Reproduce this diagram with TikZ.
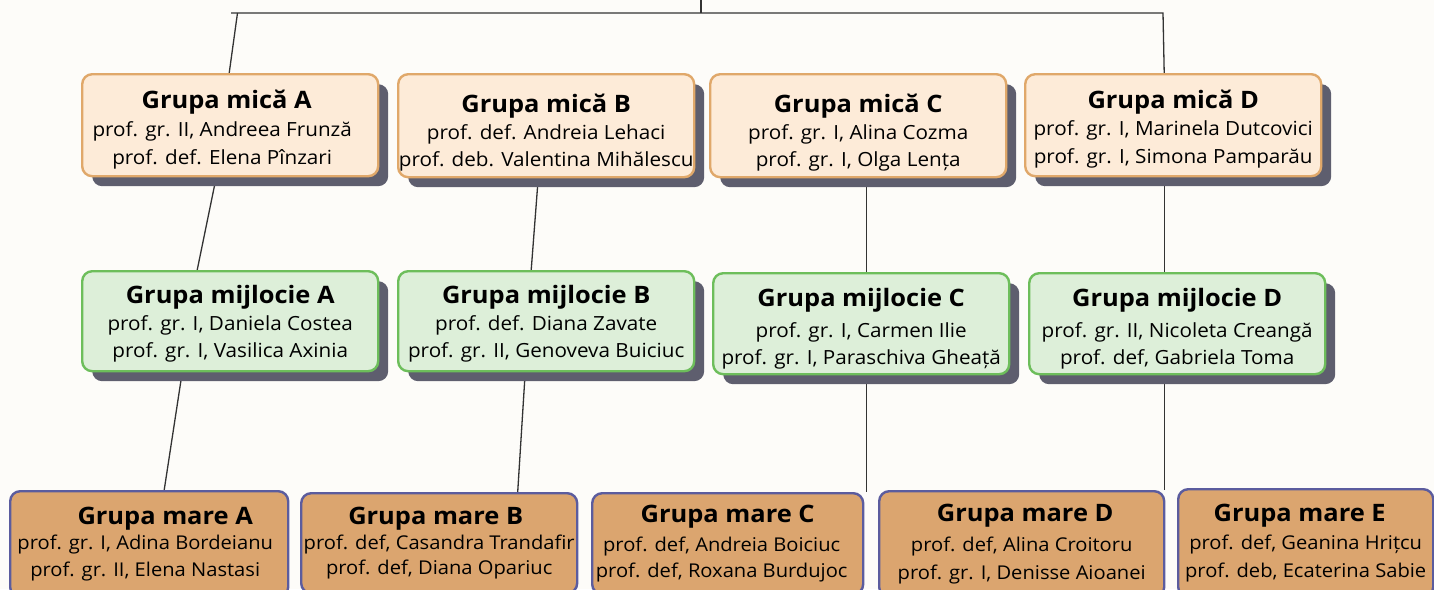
\documentclass[tikz,border=0pt]{standalone}
\usepackage{fontspec}
\setmainfont{Open Sans}[FakeStretch=1.06]
\usetikzlibrary{shadows,calc}
\definecolor{bgc}{HTML}{FDFCF9}
\definecolor{micaF}{HTML}{FDEBD8}
\definecolor{micaD}{HTML}{E0A86A}
\definecolor{mijF}{HTML}{DDEFD9}
\definecolor{mijD}{HTML}{6DBE5B}
\definecolor{mareF}{HTML}{DBA56F}
\definecolor{mareD}{HTML}{5B5C9E}
\definecolor{shc}{HTML}{5E5E6E}
\definecolor{linec}{HTML}{333333}
\pgfdeclarelayer{back}
\pgfdeclarelayer{lines}
\pgfsetlayers{back,lines,main}
\newcommand\grtitle[2][0pt]{{\fontsize{24}{28}\selectfont\bfseries\rule{0pt}{#1}#2}}
\newcommand\padR[1]{\kern#1\null}
\newcommand\padL[1]{\null\kern#1}
\begin{document}
\begin{tikzpicture}[x=1pt,y=-1pt,
  grp/.style={rounded corners=10pt, line width=2.4pt, inner sep=0pt, align=center,
    anchor=north west, text=black},
  shd/.style={drop shadow={shadow xshift=10pt, shadow yshift=-10pt, fill=shc, opacity=1}},
  mica/.style={grp, shd, fill=micaF, draw=micaD, minimum width=296pt, minimum height=102pt},
  mij/.style={grp, shd, fill=mijF, draw=mijD, minimum width=296pt, minimum height=100pt},
  mare/.style={grp, fill=mareF, draw=mareD},
  bs/.style={font=\fontsize{19.5}{#1}\selectfont},
  bm/.style={font=\fontsize{19}{#1}\selectfont},
  conn/.style={draw=linec, line width=1.3pt}
]
\useasboundingbox (0,0) rectangle (1434,589);
\begin{pgfonlayer}{back}
\fill[bgc] (0,0) rectangle (1434,589);
\end{pgfonlayer}

% row 1
\node[mica, bs=28] (micaA) at (81,73) {\grtitle[26.5pt]{Grupa mică A}\padR{7pt}\\ prof. gr. II, Andreea Frunză\padR{16pt}\\ prof. def. Elena Pînzari\padR{16pt}};
\node[mica, bs=27, minimum height=103pt] (micaB) at (397,73) {\grtitle[31.5pt]{Grupa mică B}\\ prof. def. Andreia Lehaci\\ prof. deb. Valentina Mihălescu};
\node[mica, bs=27, minimum height=103pt] (micaC) at (709,73) {\grtitle[31.5pt]{Grupa mică C}\\ prof. gr. I, Alina Cozma\\ prof. gr. I, Olga Lența};
\node[mica, bs=28] (micaD) at (1024,73) {\grtitle[25.5pt]{Grupa mică D}\\[-1pt] prof. gr. I, Marinela Dutcovici\\ prof. gr. I, Simona Pamparău};

% row 2
\node[mij, bs=27] (mijA) at (81,270) {\grtitle[22.5pt]{Grupa mijlocie A}\\ prof. gr. I, Daniela Costea\\ prof. gr. I, Vasilica Axinia};
\node[mij, bs=27] (mijB) at (397,270) {\grtitle[22.5pt]{Grupa mijlocie B}\\ prof. def. Diana Zavate\\ prof. gr. II, Genoveva Buiciuc};
\node[mij, bs=27, minimum height=101pt] (mijC) at (712,272) {\grtitle[27.5pt]{Grupa mijlocie C}\\[4pt] prof. gr. I, Carmen Ilie\\ prof. gr. I, Paraschiva Gheață};
\node[mij, bs=27, minimum height=101pt] (mijD) at (1028,272) {\grtitle[27.5pt]{Grupa mijlocie D}\\[4pt] prof. gr. II, Nicoleta Creangă\\ prof. def, Gabriela Toma};

% row 3
\node[mare, bm=27, minimum width=278pt, minimum height=106pt] (mareA) at (9,490) {\padL{32pt}\grtitle{Grupa mare A}\\[-2pt] prof. gr. I, Adina Bordeianu\padR{8pt}\\ prof. gr. II, Elena Nastasi\padR{8pt}};
\node[mare, bm=25, minimum width=276pt, minimum height=100pt] (mareB) at (300,492) {\grtitle{Grupa mare B}\padR{7pt}\\ prof. def, Casandra Trandafir\\ prof. def, Diana Opariuc};
\node[mare, bm=26, minimum width=271pt, minimum height=101pt] (mareC) at (591,492) {\grtitle{Grupa mare C}\\[3pt] prof. def, Andreia Boiciuc\padR{12pt}\\ prof. def, Roxana Burdujoc\padR{12pt}};
\node[mare, bm=28, minimum width=285pt, minimum height=106pt] (mareD) at (878,490) {\padL{7pt}\grtitle{Grupa mare D}\\[2pt] prof. def, Alina Croitoru\\ prof. gr. I, Denisse Aioanei};
\node[mare, bm=28, minimum width=255pt, minimum height=108pt] (mareE) at (1177,488) {\grtitle{Grupa mare E}\padR{12pt}\\ prof. def, Geanina Hrițcu\\ prof. deb, Ecaterina Sabie};

\begin{pgfonlayer}{lines}
\coordinate (topE) at (701,0);
\coordinate (topJ) at (701,13);
\coordinate (hl) at (231,13);
\coordinate (hr) at (1163,13);
\coordinate (sA) at (237.5,13);
\draw[conn] (topE) -- (topJ);
\draw[conn] (hl) -- (hr) -- ([xshift=-9pt]micaD.north);
\draw[conn] (sA) -- ([xshift=-1pt]micaA.north);
\draw[conn] ([xshift=-14pt]micaA.south) -- ([xshift=-33pt]mijA.north);
\draw[conn] ([xshift=-48pt]mijA.south) -- ([xshift=15pt]mareA.north);
\draw[conn] ([xshift=-8pt]micaB.south) -- ([xshift=-15pt]mijB.north);
\draw[conn] ([xshift=-21pt]mijB.south) -- ([xshift=78.5pt]mareB.north);
\draw[conn] ([xshift=8pt]micaC.south) -- ([xshift=5pt]mijC.north);
\draw[conn] ([xshift=5pt]mijC.south) -- ([xshift=5pt]mijC.south |- mareC.north);
\draw[conn] ([xshift=-9pt]micaD.south) -- ([xshift=-13pt]mijD.north);
\draw[conn] ([xshift=-13pt]mijD.south) -- ([xshift=-13pt]mijD.south |- mareD.north);
\end{pgfonlayer}
\end{tikzpicture}
\end{document}
